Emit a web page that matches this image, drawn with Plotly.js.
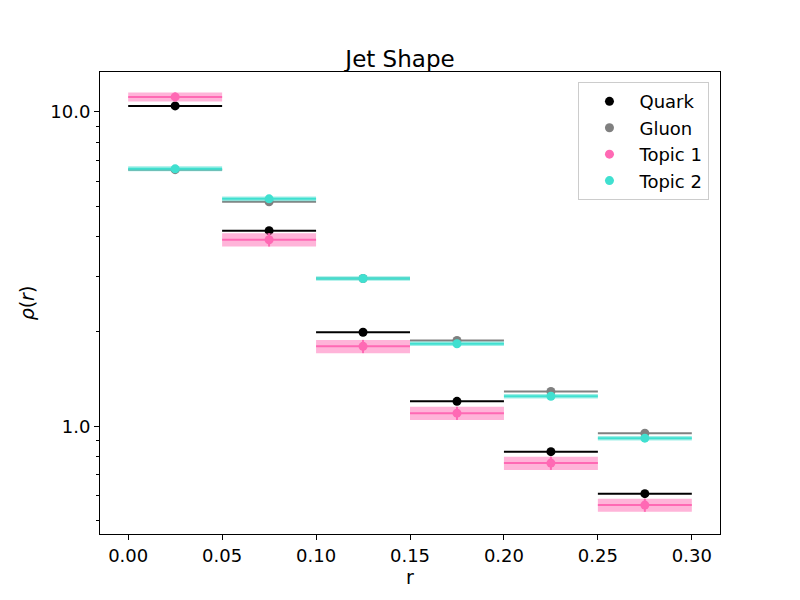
<!DOCTYPE html>
<html>
<head>
<meta charset="utf-8">
<script src="https://cdn.plot.ly/plotly-3.0.1.min.js"></script>
<style>body{margin:0}</style>
</head>
<body>
<div id="chart" style="width:800px;height:600px"></div>
<script>
// bin centres and half widths
var rCenters = [0.025, 0.075, 0.125, 0.175, 0.225, 0.275];
var rHalf = [0.025, 0.025, 0.025, 0.025, 0.025, 0.025];

var quark = [10.45, 4.19, 1.99, 1.20, 0.83, 0.61];
var gluon = [6.55, 5.18, 2.95, 1.875, 1.29, 0.95];
var topic1 = [11.16, 3.92, 1.795, 1.10, 0.763, 0.561];
var topic2 = [6.59, 5.29, 2.95, 1.83, 1.245, 0.916];

// estimated uncertainties (absolute)
var topic1Err = [0.37, 0.19, 0.087, 0.053, 0.037, 0.027];
var topic2Err = [0.12, 0.09, 0.05, 0.03, 0.02, 0.015];

var series = [
	{name: 'Quark', y: quark, color: 'black'},
	{name: 'Gluon', y: gluon, color: 'gray'},
	{name: 'Topic 1', y: topic1, color: '#ff69b4', err: topic1Err},
	{name: 'Topic 2', y: topic2, color: '#40e0d0', err: topic2Err}
];

function bandTrace(vals, errs, color){
	var xs = [], ys = [];
	vals.forEach(function(v, i){
		var lo = rCenters[i] - rHalf[i], hi = rCenters[i] + rHalf[i];
		xs.push(lo, hi, hi, lo, lo, null);
		ys.push(v - errs[i], v - errs[i], v + errs[i], v + errs[i], v - errs[i], null);
	});
	return {
		x: xs, y: ys, type: 'scatter', mode: 'lines', fill: 'toself',
		fillcolor: color, line: {width: 0}, hoverinfo: 'skip', showlegend: false
	};
}

var data = [];
series.forEach(function(s){
	if(s.err){
		var fc = s.name == 'Topic 1' ? 'rgba(255,105,180,0.5)' : 'rgba(64,224,208,0.5)';
		data.push(bandTrace(s.y, s.err, fc));
	}
	var trace = {
		x: rCenters,
		y: s.y,
		name: s.name,
		type: 'scatter',
		mode: 'markers',
		marker: {color: s.color, size: 9},
		error_x: {type: 'data', array: rHalf, width: 0, thickness: 2, color: s.color}
	};
	if(s.err){
		trace.error_y = {type: 'data', array: s.err, width: 0, thickness: 2, color: s.color};
	}
	data.push(trace);
});

var layout = {
	width: 800, height: 600,
	font: {family: 'DejaVu Sans', size: 18, color: 'black'},
	paper_bgcolor: 'white', plot_bgcolor: 'white',
	margin: {l: 100, r: 80, t: 72, b: 66},
	title: {text: 'Jet Shape', font: {size: 23}, x: 0.5, xanchor: 'center', y: 0.888, yanchor: 'bottom'},
	xaxis: {
		title: {text: 'r', font: {size: 19}, standoff: 4},
		range: [-0.015, 0.315],
		tickvals: [0, 0.05, 0.1, 0.15, 0.2, 0.25, 0.3],
		tickformat: '.2f',
		showgrid: false, zeroline: false,
		showline: true, mirror: true, linecolor: 'black', linewidth: 1,
		ticks: 'outside', ticklen: 5, tickcolor: 'black'
	},
	yaxis: {
		title: {text: '<i>ρ</i>(<i>r</i>)', font: {size: 19}, standoff: 10},
		type: 'log',
		range: [-0.343, 1.127],
		tickvals: [1, 10],
		ticktext: ['1.0', '10.0'],
		showgrid: false, zeroline: false,
		showline: true, mirror: true, linecolor: 'black', linewidth: 1,
		ticks: 'outside', ticklen: 5, tickcolor: 'black',
		minor: {tickvals: [0.5, 0.6, 0.7, 0.8, 0.9, 2, 3, 4, 5, 6, 7, 8, 9], ticks: 'outside', ticklen: 3, tickcolor: 'black'}
	},
	legend: {
		x: 0.983, xanchor: 'right', y: 0.978, yanchor: 'top',
		bordercolor: '#cccccc', borderwidth: 1, bgcolor: 'rgba(255,255,255,0.8)',
		font: {size: 18}, itemwidth: 50, tracegroupgap: 4
	}
};

Plotly.newPlot('chart', data, layout, {displayModeBar: false});
</script>
</body>
</html>
